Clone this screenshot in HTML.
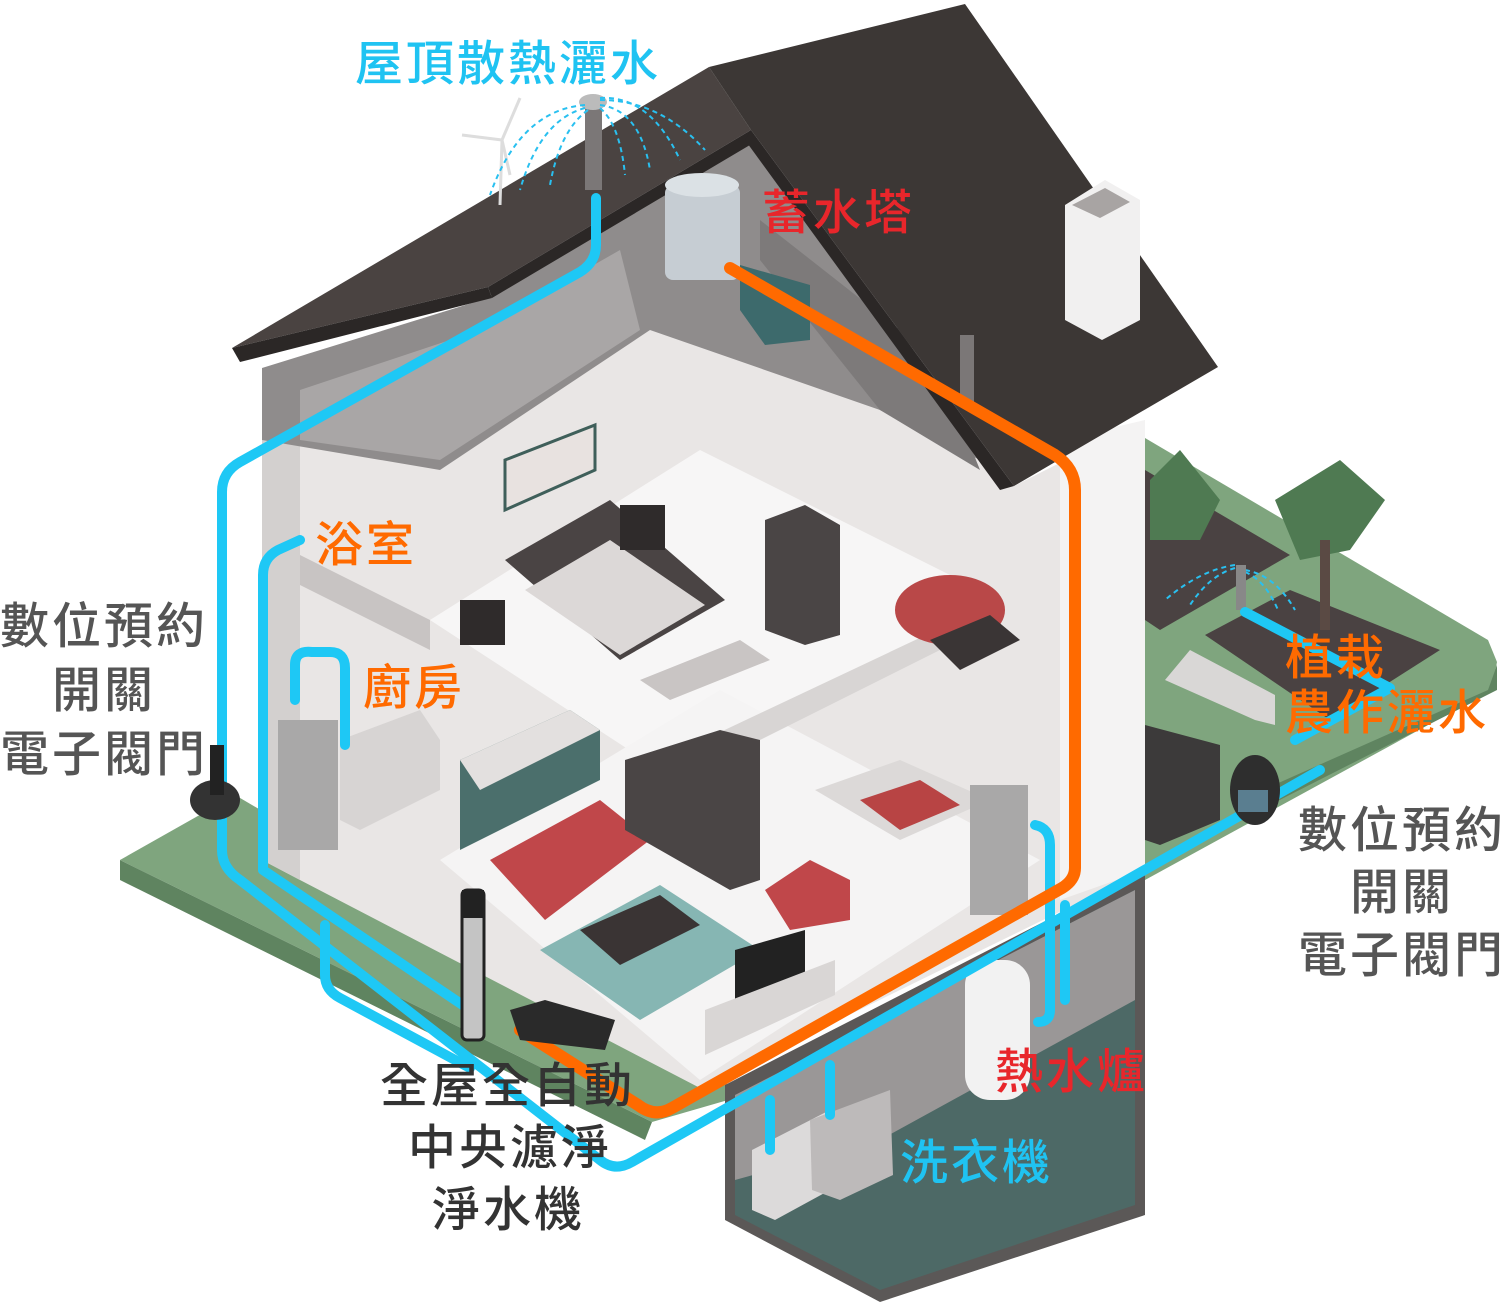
<!DOCTYPE html>
<html><head><meta charset="utf-8"><style>
html,body{margin:0;padding:0;background:#fff;}
svg{display:block}
text{font-family:"Liberation Sans","Noto Sans CJK TC","Noto Sans CJK SC",sans-serif;font-weight:500}
</style></head><body>
<svg width="1500" height="1307" viewBox="0 0 1500 1307" xmlns="http://www.w3.org/2000/svg">
<rect width="1500" height="1307" fill="#fff"/>
<polygon points="1145,438 1488,640 1497,662 1492,690 1145,880" fill="#7fa57e"/>
<polygon points="1488,690 1497,665 1497,690 1250,815 1240,800" fill="#5f8460"/>
<polygon points="1145,470 1290,555 1160,630 1145,620" fill="#4a4242"/>
<polygon points="1205,635 1290,590 1440,650 1330,720" fill="#4a4242"/>
<polygon points="1165,680 1190,650 1275,695 1275,725 1255,720" fill="#d9d7d6"/>
<polygon points="1150,480 1180,450 1220,500 1200,540 1150,540" fill="#4f7a52"/>
<polygon points="1275,500 1340,460 1385,500 1350,550 1300,560" fill="#4f7a52"/>
<rect x="1320" y="540" width="10" height="90" fill="#5a4a44"/>
<polygon points="1145,725 1220,745 1220,820 1160,845 1145,840" fill="#3c3a3a"/>
<polygon points="120,860 235,795 728,1085 728,1100 652,1122" fill="#7fa57e"/>
<polygon points="120,860 120,880 645,1140 652,1122" fill="#5f8460"/>
<polygon points="725,1085 1145,870 1145,1215 880,1302 725,1220" fill="#5b5857"/>
<polygon points="735,1095 1135,890 1135,1205 880,1290 735,1215" fill="#4d6966"/>
<polygon points="735,1095 1135,890 1135,1000 880,1140 735,1180" fill="#9a9797"/>
<rect x="965" y="960" width="65" height="140" rx="25" fill="#f2f2f2"/>
<polygon points="752,1150 830,1110 830,1190 775,1220 752,1210" fill="#dcdada"/>
<polygon points="810,1120 890,1090 893,1175 840,1200 812,1190" fill="#bdbaba"/>
<polygon points="262,370 488,298 751,140 1014,486 1145,420 1145,870 700,1088 300,880 262,860" fill="#e9e6e5"/>
<polygon points="262,370 300,360 300,880 262,860" fill="#d3d0cf"/>
<polygon points="1060,440 1145,420 1145,870 1060,900" fill="#f4f3f3"/>
<polygon points="430,620 700,450 1000,600 660,770" fill="#f7f6f6"/>
<polygon points="440,860 720,690 1040,860 700,1080" fill="#f5f4f4"/>
<polygon points="300,555 430,620 430,650 300,585" fill="#c8c4c3"/>
<polygon points="640,770 1000,600 1000,620 660,790" fill="#d8d5d4"/>
<polygon points="262,368 488,298 751,140 1000,470 880,410 650,330 440,470 262,440" fill="#8f8c8c"/>
<polygon points="300,390 480,330 620,250 640,330 440,460 300,440" fill="#a9a6a6"/>
<polygon points="760,220 900,330 960,420 980,470 880,410 760,260" fill="#7d7a7a"/>
<polygon points="505,560 610,500 725,600 620,660" fill="#4a4444"/>
<polygon points="525,590 610,540 705,605 620,655" fill="#dcd8d7"/>
<rect x="620" y="505" width="45" height="45" fill="#2f2b2b"/>
<rect x="460" y="600" width="45" height="45" fill="#2f2b2b"/>
<polygon points="765,520 805,505 840,525 840,635 805,645 765,630" fill="#4a4545"/>
<ellipse cx="950" cy="610" rx="55" ry="35" fill="#b94848"/>
<polygon points="930,640 990,615 1020,640 960,670" fill="#3a3535"/>
<polygon points="505,460 595,425 595,470 505,510" fill="#e8e2e0" stroke="#3f5f5a" stroke-width="3"/>
<polygon points="640,680 740,640 770,660 670,700" fill="#c9c5c4"/>
<polygon points="490,860 600,800 650,840 545,920" fill="#c0474a"/>
<polygon points="540,950 660,885 760,950 640,1020" fill="#86b6b3"/>
<polygon points="580,930 660,895 700,925 620,965" fill="#3a3434"/>
<polygon points="625,760 720,730 760,740 760,880 730,890 625,830" fill="#4a4545"/>
<polygon points="765,890 810,860 850,880 850,920 790,930" fill="#c0474a"/>
<polygon points="735,950 805,930 805,1000 735,1020" fill="#222"/>
<polygon points="705,1010 835,960 835,995 705,1055" fill="#d9d6d5"/>
<polygon points="815,790 900,760 990,800 900,840" fill="#dcd9d8"/>
<polygon points="860,800 920,780 960,805 900,830" fill="#b84444"/>
<rect x="278" y="720" width="60" height="130" fill="#a9a8a8"/>
<rect x="970" y="785" width="58" height="130" fill="#a9a8a8"/>
<polygon points="340,740 420,710 440,740 440,790 360,830 340,820" fill="#d7d4d3"/>
<polygon points="460,760 570,710 600,730 600,780 460,850" fill="#4b6f6c"/>
<polygon points="460,760 570,710 600,730 480,790" fill="#e3e0df"/>
<polygon points="232,348 709,67 751,130 488,287" fill="#4a4341"/>
<polygon points="232,348 488,287 492,298 240,362" fill="#2b2726"/>
<polygon points="488,287 751,130 755,142 492,298" fill="#2b2726"/>
<polygon points="709,67 965,4 1218,367 1014,486 751,130" fill="#3c3735"/>
<polygon points="751,130 1014,486 1000,490 745,140" fill="#2b2726"/>
<polygon points="1065,205 1105,180 1140,200 1140,320 1102,340 1065,320" fill="#f1f0f0"/>
<polygon points="1072,205 1105,188 1130,202 1100,218" fill="#a8a4a3"/>
<rect x="585" y="105" width="17" height="85" fill="#7b7777"/>
<ellipse cx="593" cy="102" rx="14" ry="8" fill="#bbb"/>
<rect x="960" y="335" width="14" height="70" fill="#7b7777"/>
<line x1="500" y1="205" x2="502" y2="140" stroke="#ddd" stroke-width="3"/>
<line x1="502" y1="140" x2="462" y2="135" stroke="#ddd" stroke-width="3"/>
<line x1="502" y1="140" x2="520" y2="98" stroke="#ddd" stroke-width="3"/>
<line x1="502" y1="140" x2="510" y2="175" stroke="#ddd" stroke-width="3"/>
<g fill="none" stroke="#29c0f0" stroke-width="2" stroke-dasharray="5,4">
<path d="M585,105 Q520,110 490,195"/><path d="M585,108 Q540,120 520,190"/><path d="M588,110 Q560,130 550,185"/>
<path d="M600,100 Q660,100 705,150"/><path d="M600,98 Q650,95 680,160"/><path d="M600,105 Q640,110 650,170"/><path d="M600,108 Q620,125 625,175"/>
<path d="M1235,565 Q1200,570 1165,600"/><path d="M1235,568 Q1210,575 1190,605"/><path d="M1245,570 Q1275,575 1295,610"/><path d="M1245,572 Q1265,580 1278,610"/>
</g>
<rect x="1236" y="565" width="10" height="45" fill="#888"/>
<rect x="665" y="185" width="75" height="95" rx="8" fill="#c6cdd3"/>
<ellipse cx="702" cy="185" rx="37" ry="12" fill="#dbe1e5"/>
<polygon points="740,265 810,285 810,340 765,345 740,310" fill="#3d6a6c"/>
<g fill="none" stroke="#1ec8f5" stroke-width="10" stroke-linecap="round" stroke-linejoin="round">
<path d="M596,198 L596,245 Q596,262 580,272 L240,462 Q222,472 222,492 L222,850 Q222,868 240,880 L600,1160 Q615,1172 632,1162 L1320,770"/>
<path d="M300,540 L278,550 Q263,558 263,575 L263,870 L470,1010"/>
<path d="M295,700 L295,665 Q295,650 312,652 L330,652 Q345,652 345,668 L345,745"/>
<path d="M325,925 L325,975 Q325,990 340,998 L470,1068"/>
<path d="M1035,825 Q1050,828 1050,845 L1050,1010 Q1050,1022 1038,1022"/>
<path d="M1065,905 L1065,1000"/>
<path d="M770,1100 L770,1150"/><path d="M830,1065 L830,1115"/>
<path d="M1245,612 L1390,688 L1295,740"/>
</g>
<path d="M730,268 L1055,455 Q1075,468 1075,490 L1075,868 Q1075,880 1062,888 L672,1108 Q655,1118 638,1105 L520,1030" fill="none" stroke="#ff6a00" stroke-width="12" stroke-linecap="round" stroke-linejoin="round"/>
<rect x="462" y="890" width="22" height="150" rx="5" fill="#c4c4c4" stroke="#222" stroke-width="3"/>
<rect x="462" y="890" width="22" height="28" fill="#222"/>
<polygon points="510,1010 545,1000 615,1020 605,1050 520,1040" fill="#2a2a2a"/>
<ellipse cx="215" cy="800" rx="25" ry="20" fill="#333"/>
<rect x="210" y="745" width="14" height="50" fill="#222"/>
<ellipse cx="1255" cy="790" rx="25" ry="35" fill="#2e2e2e"/>
<rect x="1238" y="790" width="30" height="22" fill="#5a7e90"/>
<g font-size="48" letter-spacing="3">
<text x="355" y="80" fill="#1fc3f2">屋頂散熱灑水</text>
<text x="762" y="229" fill="#e8262b">蓄水塔</text>
<text x="315" y="561" fill="#ff6a00">浴室</text>
<text x="363" y="704" fill="#ff6a00">廚房</text>
<text x="1285" y="674" fill="#ff6a00">植栽</text>
<text x="1285" y="729" fill="#ff6a00">農作灑水</text>
<text x="995" y="1088" fill="#e8262b">熱水爐</text>
<text x="900" y="1179" fill="#1fc3f2">洗衣機</text>
<text x="380" y="1102" fill="#333">全屋全自動</text>
<text x="408" y="1164" fill="#333">中央濾淨</text>
<text x="432" y="1226" fill="#333">淨水機</text>
</g>
<g font-size="49" fill="#555" letter-spacing="3">
<text x="0" y="643">數位預約</text>
<text x="52" y="707">開關</text>
<text x="0" y="771">電子閥門</text>
<text x="1298" y="847">數位預約</text>
<text x="1350" y="909">開關</text>
<text x="1298" y="972">電子閥門</text>
</g>
</svg>
</body></html>
